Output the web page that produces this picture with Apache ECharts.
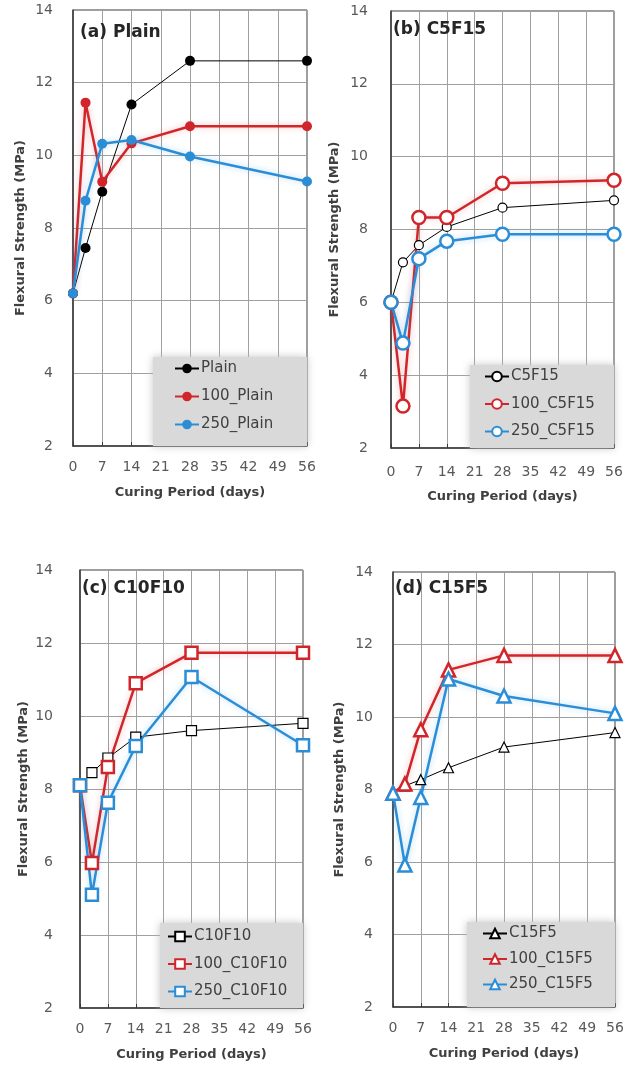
<!DOCTYPE html>
<html>
<head>
<meta charset="utf-8">
<title>Flexural Strength</title>
<script src="https://cdn.jsdelivr.net/npm/echarts/dist/echarts.min.js"></script>
<style>
  html, body { margin: 0; padding: 0; background: #fff; }
  #main { width: 640px; height: 1065px; }
</style>
</head>
<body>
<div id="main"></div>
<script>
// curing days (x values)
var days = [0, 3, 7, 14, 28, 56];

// (a) Plain
var plain = [6.2, 7.45, 9.0, 11.4, 12.6, 12.6];
var plain100 = [6.2, 11.45, 9.27, 10.33, 10.8, 10.8];
var plain250 = [6.2, 8.75, 10.32, 10.42, 9.97, 9.28];
// (b) C5F15
var c5f15 = [6.0, 7.1, 7.57, 8.07, 8.6, 8.8];
var c5f15_100 = [6.0, 3.15, 8.33, 8.33, 9.27, 9.35];
var c5f15_250 = [6.0, 4.88, 7.2, 7.68, 7.87, 7.87];
// (c) C10F10
var c10f10 = [8.1, 8.45, 8.85, 9.42, 9.6, 9.8];
var c10f10_100 = [8.1, 5.97, 8.6, 10.9, 11.73, 11.73];
var c10f10_250 = [8.1, 5.1, 7.62, 9.18, 11.07, 9.2];
// (d) C15F5
var c15f5 = [7.9, 8.1, 8.27, 8.6, 9.17, 9.57];
var c15f5_100 = [7.9, 8.15, 9.65, 11.3, 11.7, 11.7];
var c15f5_250 = [7.9, 5.92, 7.78, 11.05, 10.58, 10.1];

var titles = ['(a) Plain', '(b) C5F15', '(c) C10F10', '(d) C15F5'];
var names = [
  ['Plain', '100_Plain', '250_Plain'],
  ['C5F15', '100_C5F15', '250_C5F15'],
  ['C10F10', '100_C10F10', '250_C10F10'],
  ['C15F5', '100_C15F5', '250_C15F5']
];
var values = [
  [plain, plain100, plain250],
  [c5f15, c5f15_100, c5f15_250],
  [c10f10, c10f10_100, c10f10_250],
  [c15f5, c15f5_100, c15f5_250]
];

var colors = ['#000000', '#d0262b', '#2b8dd6'];
var glow = ['rgba(0,0,0,0)', 'rgba(230,80,80,0.4)', 'rgba(60,160,230,0.4)'];
var font = '"DejaVu Sans", sans-serif';

// layout of the four panels
var grids = [
  { left: 73, top: 10, right: 333, bottom: 619 },
  { left: 391, top: 11, right: 26, bottom: 617 },
  { left: 80, top: 570, right: 337, bottom: 57 },
  { left: 393, top: 572, right: 25, bottom: 58 }
];
var yLabelMargin = [20, 23, 27, 20];
var yNameGap = [46, 50, 50, 47];
var xLabelMargin = [14, 17, 14, 14];
var xNameGap = [40, 42, 40, 40];
var titlePos = [[80, 24], [393, 21], [82, 580], [395, 580]];
var legendBox = [[153, 357, 154, 89], [470, 365, 144, 83], [160, 923, 143, 85], [467, 922, 148, 85]];
var legendPos = [[174, 361, 13], [484, 369, 12.5], [167, 929, 12.5], [482, 926, 10.5]];
var symbols = ['circle', 'circle', 'rect', 'triangle'];
var filled = [true, false, false, false];
var symSize = [[10, 10, 10], [9, 13, 13], [10, 12, 12], [10, 13, 13]];

var myChart = echarts.init(document.getElementById('main'));

var option = {
  backgroundColor: '#fff',
  animation: false,
  title: [],
  grid: [],
  xAxis: [],
  yAxis: [],
  legend: [],
  graphic: [],
  series: []
};

for (var i = 0; i < 4; i++) {
  option.grid.push({
    left: grids[i].left, top: grids[i].top, right: grids[i].right, bottom: grids[i].bottom,
    show: true, borderColor: '#3a3a3a', borderWidth: 1, backgroundColor: '#fff'
  });
  option.xAxis.push({
    type: 'value', gridIndex: i, min: 0, max: 56, interval: 7,
    name: 'Curing Period (days)', nameLocation: 'middle', nameGap: xNameGap[i],
    nameTextStyle: { fontFamily: font, fontSize: 13, fontWeight: 'bold', color: '#404040' },
    axisLine: { show: true, lineStyle: { color: '#3a3a3a', width: 1.5 } },
    axisTick: { show: true, inside: true, length: 4, lineStyle: { color: '#3a3a3a' } },
    axisLabel: { margin: xLabelMargin[i], fontFamily: font, fontSize: 14, color: '#595959' },
    splitLine: { show: true, lineStyle: { color: '#a0a0a0', width: 1 } }
  });
  option.yAxis.push({
    type: 'value', gridIndex: i, min: 2, max: 14, interval: 2,
    name: 'Flexural Strength (MPa)', nameLocation: 'middle', nameGap: yNameGap[i],
    nameTextStyle: { fontFamily: font, fontSize: 13, fontWeight: 'bold', color: '#404040' },
    axisLine: { show: true, lineStyle: { color: '#3a3a3a', width: 1.5 } },
    axisTick: { show: false },
    axisLabel: { margin: yLabelMargin[i], fontFamily: font, fontSize: 14, color: '#595959' },
    splitLine: { show: true, lineStyle: { color: '#a0a0a0', width: 1 } }
  });
  option.title.push({
    text: titles[i], left: titlePos[i][0], top: titlePos[i][1], padding: 0,
    textStyle: { fontFamily: font, fontSize: 17, fontWeight: 'bold', color: '#262626' }
  });
  // grey legend box
  option.graphic.push({
    type: 'rect', z: 3,
    shape: { x: legendBox[i][0], y: legendBox[i][1], width: legendBox[i][2], height: legendBox[i][3] },
    style: { fill: '#d9d9d9', shadowBlur: 8, shadowColor: 'rgba(190,190,190,0.9)' }
  });
  option.legend.push({
    orient: 'vertical', left: legendPos[i][0], top: legendPos[i][1], padding: 0,
    itemGap: legendPos[i][2], itemWidth: 24, itemHeight: 12, z: 5,
    data: names[i],
    textStyle: { fontFamily: font, fontSize: 15, color: '#404040', padding: [0, 0, 0, -3] }
  });

  for (var k = 0; k < 3; k++) {
    var pts = days.map(function (d, j) { return [d, values[i][k][j]]; });
    option.series.push({
      name: names[i][k],
      type: 'line',
      xAxisIndex: i,
      yAxisIndex: i,
      data: pts,
      symbol: symbols[i],
      symbolSize: symSize[i][k],
      showAllSymbol: true,
      lineStyle: {
        color: colors[k],
        width: k === 0 ? 1 : 2.5,
        shadowBlur: k === 0 ? 0 : 6,
        shadowColor: glow[k]
      },
      itemStyle: {
        color: filled[i] ? colors[k] : '#ffffff',
        borderColor: colors[k],
        borderWidth: filled[i] ? 0 : (k === 0 ? 1.2 : 2.5)
      },
      emphasis: { disabled: true }
    });
  }
}

myChart.setOption(option);
window.addEventListener('resize', function () {
  myChart.resize();
});
</script>
</body>
</html>
